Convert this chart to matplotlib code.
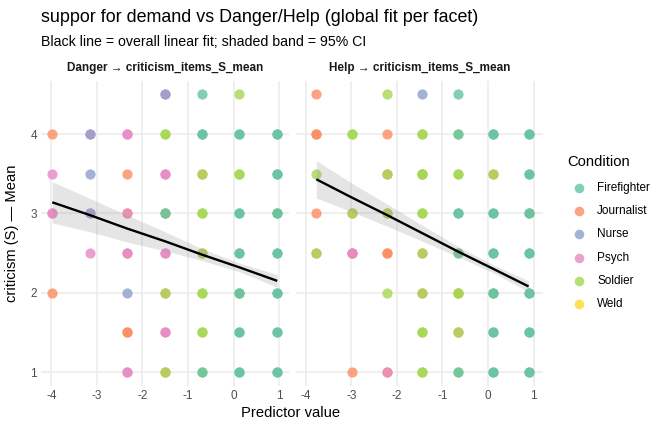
import matplotlib
matplotlib.use("Agg")
import matplotlib.pyplot as plt
import numpy as np

plt.rcParams['font.family'] = ['Liberation Sans', 'DejaVu Sans']
plt.rcParams['axes.unicode_minus'] = False

# predictor columns (x positions) in each facet
danger_x = [-3.98, -3.16, -2.34, -1.51, -0.69, 0.13, 0.96]
help_x = [-3.77, -2.99, -2.22, -1.44, -0.66, 0.12, 0.89]

conditions = ['Firefighter', 'Journalist', 'Nurse', 'Psych', 'Soldier', 'Weld']
colors = {'Firefighter': '#66C2A5', 'Journalist': '#FC8D62', 'Nurse': '#8DA0CB',
          'Psych': '#E78AC3', 'Soldier': '#A6D854', 'Weld': '#FFD92F'}
draw_order = ['Weld', 'Journalist', 'Psych', 'Nurse', 'Soldier', 'Firefighter']

# points as (column index, mean) per condition
danger_pts = {
    'Weld': [(6, 3), (5, 2)],
    'Journalist': [(0, 4), (0, 2), (2, 3.5), (2, 3), (2, 1.5), (2, 1.5), (3, 2), (3, 1),
                   (4, 3.5), (4, 2.5)],
    'Psych': [(0, 3.5), (0, 3), (0, 3), (1, 4), (1, 3), (1, 2.5), (2, 4), (2, 4), (2, 3),
              (2, 2.5), (2, 2.5), (2, 1), (2, 1), (3, 4.5), (3, 3.5), (3, 3.5), (3, 3),
              (3, 2.5), (3, 2.5), (3, 1.5), (3, 1.5)],
    'Nurse': [(1, 4), (1, 3.5), (1, 3), (2, 2), (3, 4.5)],
    'Soldier': [(3, 4), (3, 4), (3, 3), (3, 2), (3, 1), (4, 3.5), (4, 3), (4, 3), (4, 2.5),
                (4, 2), (4, 2), (4, 1.5), (4, 1.5), (4, 1), (5, 4.5), (5, 3.5), (5, 3.5)],
    'Firefighter': [(3, 3), (4, 4.5), (4, 4), (4, 4), (4, 1), (5, 4), (5, 4), (5, 3), (5, 3),
                    (5, 2.5), (5, 2.5), (5, 2), (5, 2), (5, 1.5), (5, 1.5), (5, 1), (5, 1),
                    (6, 4), (6, 4), (6, 3.5), (6, 3.5), (6, 3), (6, 3), (6, 2.5), (6, 2.5),
                    (6, 2), (6, 2), (6, 1.5), (6, 1.5), (6, 1), (6, 1)],
}
help_pts = {
    'Weld': [(6, 3), (5, 2)],
    'Journalist': [(0, 4.5), (0, 4), (0, 4), (0, 3), (0, 2.5), (1, 3), (1, 2.5), (1, 1),
                   (2, 4), (2, 3.5), (2, 3), (2, 2.5), (2, 2.5), (2, 1), (3, 3.5), (3, 2.5),
                   (3, 2), (4, 2), (4, 1.5), (5, 3.5)],
    'Psych': [(1, 2.5), (1, 2.5), (2, 1)],
    'Nurse': [(3, 4.5)],
    'Soldier': [(0, 3.5), (0, 2.5), (1, 4), (1, 4), (1, 3), (2, 4.5), (2, 3.5), (2, 3), (2, 2),
                (3, 4), (3, 4), (3, 3.5), (3, 3.5), (3, 3), (3, 3), (3, 2.5), (3, 2), (3, 1.5),
                (3, 1.5), (3, 1), (3, 1), (4, 4), (4, 3.5), (4, 3.5), (4, 2.5), (4, 2), (4, 2),
                (4, 1.5), (4, 1), (5, 3.5)],
    'Firefighter': [(4, 4.5), (4, 4), (4, 3), (4, 3), (4, 2.5), (4, 1), (5, 4), (5, 4), (5, 3),
                    (5, 3), (5, 2.5), (5, 2.5), (5, 2), (5, 2), (5, 1.5), (5, 1.5), (5, 1),
                    (5, 1), (6, 4), (6, 4), (6, 3.5), (6, 3.5), (6, 3), (6, 3), (6, 2.5),
                    (6, 2.5), (6, 2), (6, 2), (6, 1.5), (6, 1.5), (6, 1), (6, 1)],
}

# overall linear fit and 95% CI half width, read at each column
danger_fit = [3.14, 2.98, 2.81, 2.65, 2.48, 2.32, 2.15]
danger_ci = [0.26, 0.21, 0.17, 0.12, 0.075, 0.055, 0.08]
help_fit = [3.43, 3.20, 2.98, 2.75, 2.52, 2.30, 2.08]
help_ci = [0.235, 0.18, 0.14, 0.10, 0.065, 0.05, 0.07]

facet_titles = ['Danger \u2192 criticism_items_S_mean', 'Help \u2192 criticism_items_S_mean']

W, H = 672, 432
fig = plt.figure(figsize=(W / 100, H / 100), dpi=100)

panel_left = [41, 295.5]
panel_w = 247.5
panel_top, panel_bot = 80.5, 386
axes = []
for i in range(2):
    ax = fig.add_axes([panel_left[i] / W, 1 - panel_bot / H, panel_w / W, (panel_bot - panel_top) / H])
    axes.append(ax)

facets = [(danger_x, danger_pts, danger_fit, danger_ci), (help_x, help_pts, help_fit, help_ci)]
for i, (ax, (xs, pts, fit, ci)) in enumerate(zip(axes, facets)):
    for c in draw_order:
        px = [xs[j] for j, _ in pts[c]]
        py = [y for _, y in pts[c]]
        ax.scatter(px, py, s=54, color=colors[c], alpha=0.8, linewidths=0, zorder=2)
    fx = np.array(xs)
    fy = np.array(fit)
    fc = np.array(ci)
    ax.fill_between(fx, fy - fc, fy + fc, color='#999999', alpha=0.25, linewidth=0, zorder=3)
    ax.plot(fx, fy, color='black', lw=1.7, zorder=4, solid_capstyle='butt')

    ax.set_xlim(-4.227, 1.207)
    ax.set_ylim(0.825, 4.675)
    ax.set_xticks([-4, -3, -2, -1, 0, 1])
    ax.set_yticks([1, 2, 3, 4])
    ax.grid(True, color='#EBEBEB', lw=1.1, zorder=0)
    ax.set_axisbelow(True)
    for s in ax.spines.values():
        s.set_visible(False)
    ax.tick_params(length=0, labelsize=8.45, labelcolor='#4D4D4D', pad=3)
    if i == 1:
        ax.set_yticklabels([])
    ax.set_title(facet_titles[i], fontsize=8.45, fontweight='bold', color='#1A1A1A', pad=7)

fig.text(41 / W, 1 - 17 / H, 'suppor for demand vs Danger/Help (global fit per facet)',
         fontsize=12.9, va='center', ha='left')
fig.text(41 / W, 1 - 42 / H, 'Black line = overall linear fit; shaded band = 95% CI',
         fontsize=10.2, va='center', ha='left')
fig.text(291 / W, 1 - 413 / H, 'Predictor value', fontsize=10.6, ha='center', va='center')
fig.text(12 / W, 1 - 233 / H, 'criticism (S) \u2014 Mean', fontsize=10.6, ha='center',
         va='center', rotation=90)

# legend
fig.text(567 / W, 1 - 162 / H, 'Condition', fontsize=10.6, ha='left', va='center')
lax = fig.add_axes([0, 0, 1, 1])
lax.set_xlim(0, W)
lax.set_ylim(H, 0)
lax.axis('off')
for k, c in enumerate(conditions):
    yy = 188 + k * 23.2
    lax.scatter([579], [yy], s=48, color=colors[c], alpha=0.8, linewidths=0)
    lax.text(597, yy, c, fontsize=8.45, ha='left', va='center', color='black')

fig.savefig('out.png', dpi=100)
